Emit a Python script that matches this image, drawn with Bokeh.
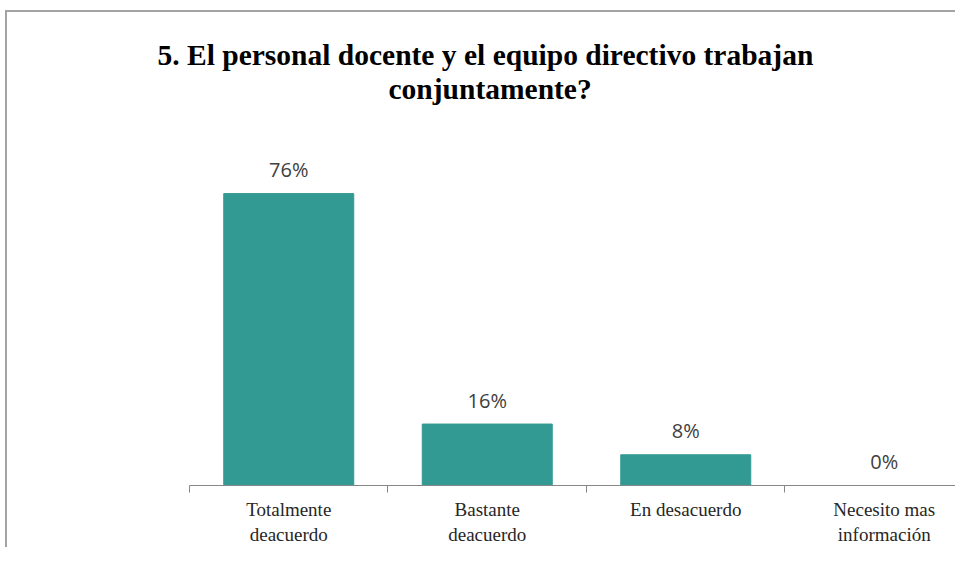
import numpy as np
from bokeh.plotting import figure
from bokeh.models import Range1d, FixedTicker, LabelSet, ColumnDataSource, Title
from bokeh.core.properties import value
from bokeh.embed import file_html
from bokeh.resources import INLINE

# ---- data ----
categories = ["Totalmente\ndeacuerdo", "Bastante\ndeacuerdo", "En desacuerdo", "Necesito mas\ninformación"]
values = [76, 16, 8, 0]
value_labels = ["76%", "16%", "8%", "0%"]
title_lines = ["5. El personal docente y el equipo directivo trabajan", "conjuntamente?"]
title_offsets = [-32, 199]
title_standoffs = [0, 0]

centers = np.arange(len(categories)) + 0.5
boundaries = np.arange(len(categories) + 1)

W, H = 955, 547
p = figure(width=W, height=H, title=None,
           x_range=Range1d(0, 3.859), y_range=Range1d(0, 99.2),
           output_backend="svg", toolbar_location=None,
           min_border_left=189, min_border_right=0,
           min_border_top=104, min_border_bottom=61)

line_bg = "linear-gradient(#a3a3a3,#a3a3a3)"
p.styles = {"background": f"{line_bg} 5px 10px/2px 100% no-repeat, {line_bg} 5px 10px/100% 2px no-repeat, white"}
p.border_fill_alpha = 0
p.background_fill_alpha = 0

p.yaxis.visible = False
p.xgrid.visible = False
p.ygrid.visible = False
p.outline_line_color = None

ax = p.xaxis[0]
ax.ticker = FixedTicker(ticks=list(centers), minor_ticks=list(boundaries))
ax.major_label_overrides = {float(c): lab for c, lab in zip(centers, categories)}
ax.major_tick_in = 0
ax.major_tick_out = 0
ax.minor_tick_in = 0
ax.minor_tick_out = 7
ax.minor_tick_line_color = "#878787"
ax.axis_line_color = "#878787"
ax.major_label_text_font = "Liberation Serif"
ax.major_label_text_font_size = "19px"
ax.major_label_text_color = "#262626"
ax.major_label_standoff = 6

src = ColumnDataSource(dict(x=centers, top=values, label=value_labels))
p.vbar(x="x", top="top", width=0.655, source=src, fill_color="#339a93", line_color="#339a93")

labels = LabelSet(x="x", y="top", text="label", source=src, y_offset=24,
                  text_align="center", text_baseline="middle",
                  text_font=value("Open Sans"), text_font_size="20px", text_color="#404040")
p.add_layout(labels)

for line, off, so in reversed(list(zip(title_lines, title_offsets, title_standoffs))):
    p.add_layout(Title(text=line, align="left", offset=off, standoff=so,
                       text_font="Liberation Serif", text_font_size="29.5px",
                       text_font_style="bold", text_color="black"), "above")

open("out.html", "w").write(file_html(p, INLINE))
